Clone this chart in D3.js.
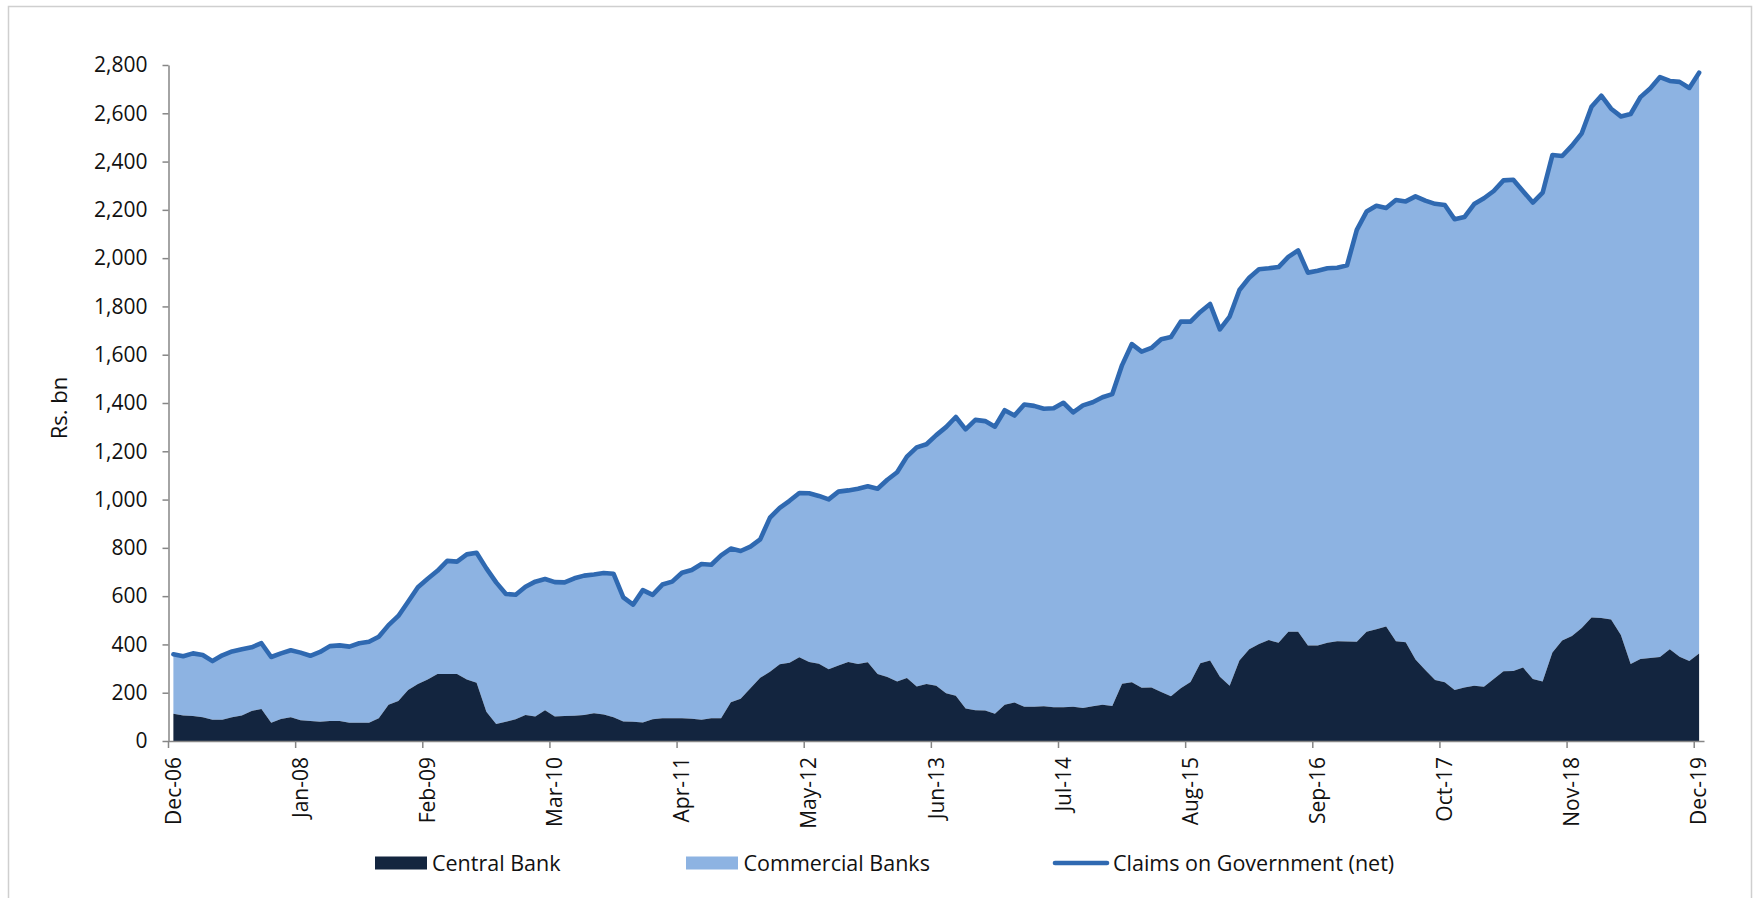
<!DOCTYPE html>
<html>
<head>
<meta charset="utf-8">
<script src="https://cdn.jsdelivr.net/npm/d3@7"></script>
<style>
  html, body { margin: 0; padding: 0; background: #ffffff; }
  svg { display: block; }
  text { font-family: "Open Sans", sans-serif; fill: #111; }
</style>
</head>
<body>
<svg id="chart" width="1756" height="898"></svg>
<script>
// ---------------- DATA ----------------
const months = d3.timeMonth.range(new Date(2006, 11, 1), new Date(2020, 0, 1)).map(d3.timeFormat("%b-%y"));

const tickLabels = ["Dec-06","Jan-08","Feb-09","Mar-10","Apr-11","May-12","Jun-13",
                    "Jul-14","Aug-15","Sep-16","Oct-17","Nov-18","Dec-19"];

const yTicks = [0,200,400,600,800,1000,1200,1400,1600,1800,2000,2200,2400,2600,2800];

const seriesNames = ["Central Bank", "Commercial Banks", "Claims on Government (net)"];

// Central Bank (bottom stack), Rs. bn
const centralBank = [
  113,106,104,98,88,88,98,106,124,133,
  76,91,98,86,83,80,83,83,76,76,
  76,94,150,166,211,236,255,277,277,277,
  255,241,121,70,80,90,108,101,127,101,
  104,105,108,115,110,98,81,80,77,90,
  94,94,94,92,88,94,94,160,175,218,
  262,287,318,324,347,327,320,297,313,327,
  319,326,278,265,246,261,226,236,229,198,
  187,135,127,126,113,150,159,142,142,144,
  140,140,142,137,144,150,145,237,243,221,
  222,203,185,218,244,322,333,266,229,333,
  380,402,418,407,453,453,396,396,407,413,
  412,411,453,463,474,413,409,338,294,253,
  243,211,222,229,225,257,289,290,304,257,
  246,367,416,435,468,512,509,503,439,319,
  340,344,348,380,349,331,362
];

// Claims on Government (net) = top of the stack (Central + Commercial), Rs. bn
const claimsGov = [
  359,351,363,356,331,355,371,380,388,405,
  348,363,376,366,353,369,393,396,391,405,
  411,432,480,518,577,637,672,705,746,743,
  773,780,715,657,609,606,639,660,671,658,
  657,674,685,690,696,693,595,565,625,605,
  648,660,697,708,733,730,769,797,787,805,
  835,925,966,995,1027,1026,1015,1001,1033,1038,
  1045,1055,1045,1082,1113,1178,1216,1229,1267,1300,
  1342,1291,1330,1325,1302,1370,1348,1394,1388,1376,
  1378,1401,1361,1390,1403,1424,1437,1557,1644,1613,
  1628,1664,1673,1737,1737,1777,1810,1705,1758,1868,
  1919,1954,1958,1963,2005,2032,1940,1948,1958,1960,
  1970,2117,2193,2217,2208,2241,2235,2256,2238,2225,
  2220,2161,2170,2224,2248,2278,2322,2325,2277,2230,
  2271,2427,2423,2466,2517,2627,2673,2619,2587,2597,
  2667,2703,2750,2734,2730,2705,2768
];

// ---------------- STYLE ----------------
const colDark = "#13253f";
const colLight = "#8db3e2";
const colLine = "#2f69b1";
const colAxis = "#868686";

// ---------------- LAYOUT ----------------
const svg = d3.select("#chart");
const plotLeft = 168.5, plotRight = 1704, plotTop = 65, plotBottom = 741;

// chart frame
svg.append("rect")
  .attr("x", 8.5).attr("y", 6.5)
  .attr("width", 1743).attr("height", 900)
  .attr("fill", "none").attr("stroke", "#cfcfcf").attr("stroke-width", 1.5);

const idx = d3.range(months.length);
const x = d3.scaleBand().domain(idx).range([plotLeft, plotRight]).padding(0);
const bw = x.bandwidth();
const cx = i => x(i) + bw / 2;
const y = d3.scaleLinear().domain([0, 2800]).range([plotBottom, plotTop]);

// areas
const areaCentral = d3.area()
  .x(i => cx(i)).y0(y(0)).y1(i => y(centralBank[i]));
const areaCommercial = d3.area()
  .x(i => cx(i)).y0(i => y(centralBank[i])).y1(i => y(claimsGov[i]));
const lineClaims = d3.line()
  .x(i => cx(i)).y(i => y(claimsGov[i]));

svg.append("path").datum(idx).attr("d", areaCommercial).attr("fill", colLight);
svg.append("path").datum(idx).attr("d", areaCentral).attr("fill", colDark);
svg.append("path").datum(idx).attr("d", lineClaims)
  .attr("fill", "none").attr("stroke", colLine).attr("stroke-width", 4.6)
  .attr("stroke-linejoin", "round").attr("stroke-linecap", "round");

// y axis
const yAxis = d3.axisLeft(y).tickValues(yTicks).tickFormat(d3.format(","))
  .tickSize(6).tickPadding(15).tickSizeOuter(0);
const gy = svg.append("g").attr("transform", `translate(${plotLeft},0)`).call(yAxis);
gy.select(".domain").attr("stroke", colAxis).attr("stroke-width", 1.5);
gy.selectAll(".tick line").attr("stroke", colAxis).attr("stroke-width", 1.5);
gy.selectAll(".tick text").style("font-family", '"Open Sans", sans-serif')
  .style("font-size", "21px").attr("fill", "#111");

// x axis
const tickIdx = tickLabels.map(l => months.indexOf(l));
const xAxis = d3.axisBottom(x).tickValues(tickIdx).tickFormat(i => months[i])
  .tickSize(7).tickSizeOuter(0);
const gx = svg.append("g").attr("transform", `translate(0,${plotBottom})`).call(xAxis);
gx.select(".domain").attr("stroke", colAxis).attr("stroke-width", 1.5);
gx.selectAll(".tick line").attr("stroke", colAxis).attr("stroke-width", 1.5)
  .attr("x1", -bw / 2).attr("x2", -bw / 2);
gx.selectAll(".tick text")
  .style("font-family", '"Open Sans", sans-serif').style("font-size", "21px").attr("fill", "#111")
  .attr("transform", "rotate(-90)")
  .attr("text-anchor", "end")
  .attr("x", -16).attr("y", 0).attr("dy", "0.35em");

// y title
svg.append("text")
  .attr("transform", "translate(59,408) rotate(-90)")
  .attr("text-anchor", "middle").attr("dy", "0.35em")
  .style("font-size", "22px")
  .text("Rs. bn");

// legend
const legY = 863;
const leg = svg.append("g");
leg.append("rect").attr("x", 375).attr("y", legY - 6.5).attr("width", 52).attr("height", 13).attr("fill", colDark);
leg.append("text").attr("x", 432).attr("y", legY).attr("dy", "0.35em").style("font-size", "21.5px").text(seriesNames[0]);
leg.append("rect").attr("x", 686).attr("y", legY - 6.5).attr("width", 52).attr("height", 13).attr("fill", colLight);
leg.append("text").attr("x", 743.5).attr("y", legY).attr("dy", "0.35em").style("font-size", "21.5px").text(seriesNames[1]);
leg.append("line").attr("x1", 1055).attr("x2", 1107).attr("y1", legY).attr("y2", legY)
  .attr("stroke", colLine).attr("stroke-width", 4.6).attr("stroke-linecap", "round");
leg.append("text").attr("x", 1113).attr("y", legY).attr("dy", "0.35em").style("font-size", "21.5px").text(seriesNames[2]);
</script>
</body>
</html>
